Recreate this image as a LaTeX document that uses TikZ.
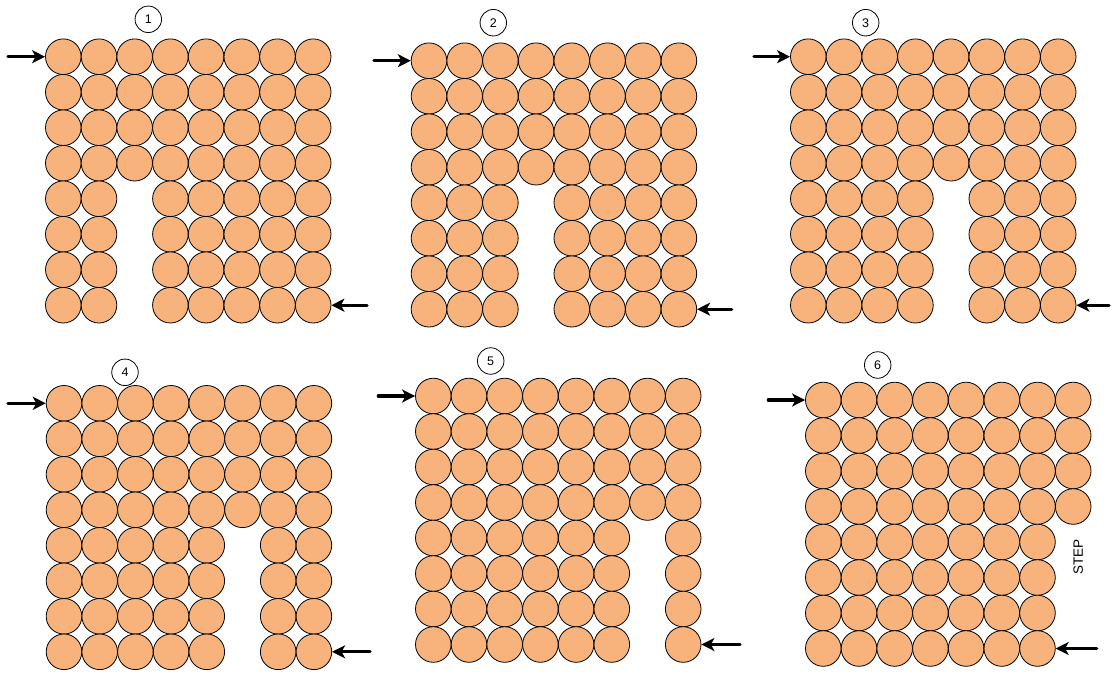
\documentclass[tikz,border=0pt]{standalone}
\usepackage{fontspec}
\setmainfont{Liberation Sans}
\usepackage{tikz}
\usetikzlibrary{arrows.meta}
\usepackage{xcolor}
\definecolor{ballorange}{RGB}{247,179,123}

\begin{document}
\begin{tikzpicture}[x=1pt,y=-1pt,>={Stealth[length=13pt,width=13pt,inset=3.5pt]},
  ball/.style={circle,draw,fill=ballorange,minimum size=35.6pt,inner sep=0pt,line width=0.8pt},
  num/.style={circle,draw,minimum size=26.5pt,inner sep=0pt,line width=0.8pt,font=\fontsize{12.5}{14}\selectfont},
  feed/.style={->,line width=3.2pt,line cap=round}]
\useasboundingbox (0,0) rectangle (1112,673);
% panel / first centre / gap column / label / arrow starts
\foreach \p/\x/\y/\g/\lx/\ly/\ax/\bx in {1/63.3/56.7/2/148.3/19.3/8/367,
    2/429/60.7/3/493.3/22.7/374/731.7,
    3/808.3/56.7/4/865.7/22.7/754/1109,
    4/64/403.3/5/125/372.3/8/370,
    5/433.3/396/6/490.7/361/378.3/740,
    6/823.3/400/7/877.7/365/768.3/1096.7} {
  \foreach \c in {0,...,7} {
    \pgfmathtruncatemacro\rows{(\c==\g)?3:7}
    \foreach \r in {0,...,\rows}
      \node[ball] (p\p-\r-\c) at (\x+\c*35.7,\y+\r*35.5) {};
  }
  \pgfmathtruncatemacro\last{(\g==7)?6:7}
  \node[num] (n\p) at (\lx,\ly) {\p};
  \coordinate (in\p) at (\ax,\y);
  \coordinate (out\p) at (\bx,\y+7*35.5);
  \draw[feed] (in\p) -- (p\p-0-0.west);
  \draw[feed] (out\p) -- (p\p-7-\last.east);
}
\node[rotate=90,font=\fontsize{13.5}{15}\selectfont] (steplabel) at (1078.3,556.7) {STEP};
\end{tikzpicture}
\end{document}
